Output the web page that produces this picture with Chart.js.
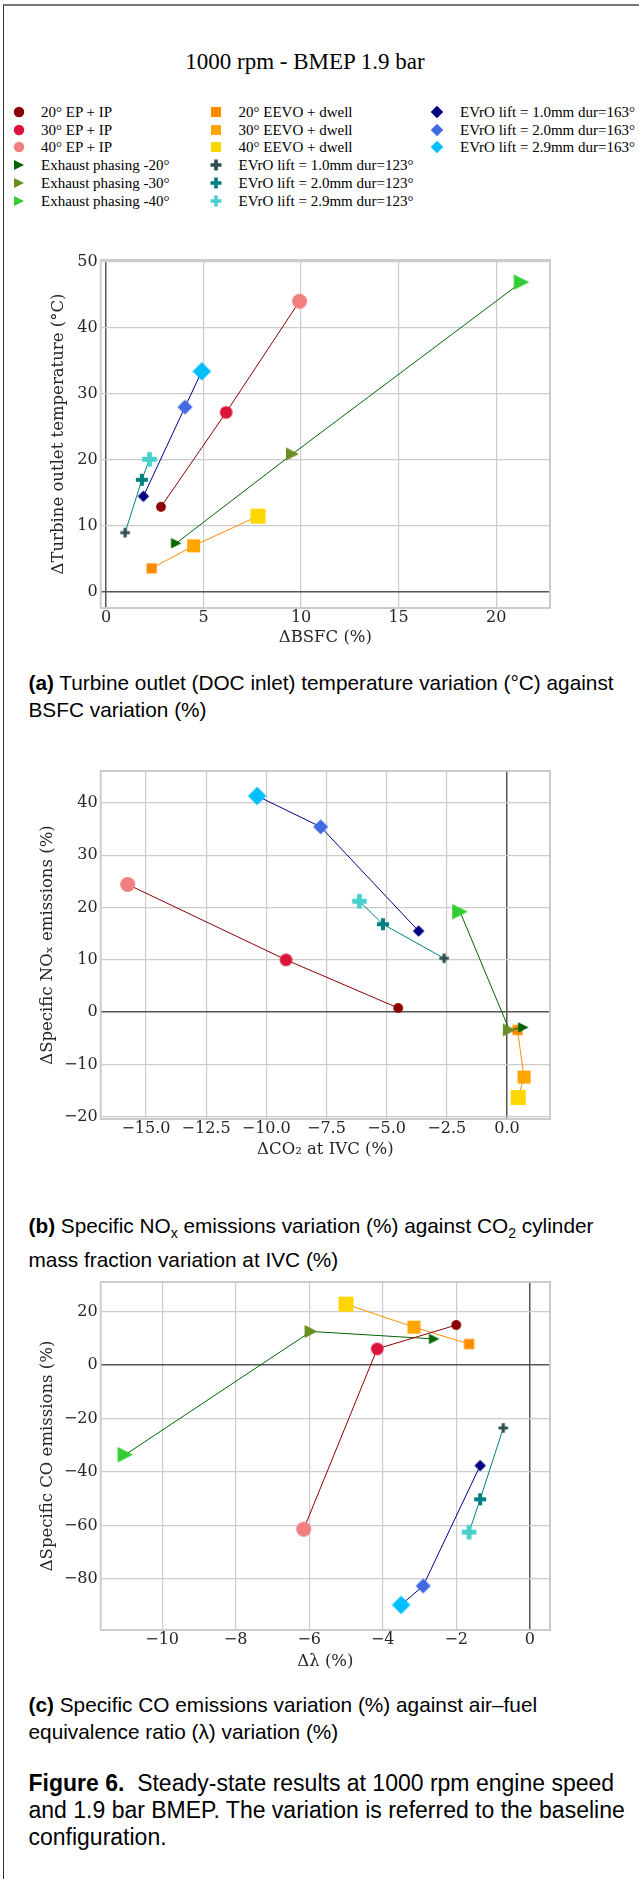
<!DOCTYPE html>
<html>
<head>
<meta charset="utf-8">
<script src="https://cdn.jsdelivr.net/npm/chart.js@4.4.1/dist/chart.umd.min.js"></script>
<style>
  html, body { margin: 0; padding: 0; background: #fff; }
  body { width: 639px; height: 1879px; position: relative; overflow: hidden; }
  #frame { position: absolute; left: 3px; top: 4px; width: 700px; height: 1900px;
           border-top: 2px solid #777; border-left: 1px solid #333; }
  #title { position: absolute; left: 0; width: 610px; top: 47.7px; text-align: center;
           font: 23px "Liberation Serif"; line-height: 28px; color: #000; }
  .leg { position: absolute; font: 15px "Liberation Serif"; line-height: 18px; white-space: nowrap; color: #000; }
  .cap { position: absolute; left: 28.5px; font-family: "Liberation Sans"; white-space: nowrap; color: #000; }
  .sub { font-size: 20.8px; line-height: 26.7px; }
  .fig { font-size: 23px; line-height: 26.7px; }
  canvas.chart { position: absolute; left: 0; }
</style>
</head>
<body>
<div id="frame"></div>
<div id="title">1000 rpm - BMEP 1.9 bar</div>
<div id="legend"></div>

<canvas id="chartA" class="chart" width="639" height="420" style="top:240px"></canvas>
<div class="cap sub" style="top:670.2px"><b>(a)</b> Turbine outlet (DOC inlet) temperature variation (°C) against<br>BSFC variation (%)</div>

<canvas id="chartB" class="chart" width="639" height="420" style="top:751px"></canvas>
<div class="cap sub" style="top:1213.4px"><b>(b)</b> Specific NO<sub style="font-size:14px">x</sub> emissions variation (%) against CO<sub style="font-size:14px">2</sub> cylinder<br>mass fraction variation at IVC (%)</div>

<canvas id="chartC" class="chart" width="639" height="420" style="top:1262px"></canvas>
<div class="cap sub" style="top:1692px"><b>(c)</b> Specific CO emissions variation (%) against air–fuel<br>equivalence ratio (λ) variation (%)</div>

<div class="cap fig" style="top:1770.2px"><b>Figure 6.</b>&nbsp; Steady-state results at 1000 rpm engine speed<br>and 1.9 bar BMEP. The variation is referred to the baseline<br>configuration.</div>

<script>
// series (same order in every panel)
const seriesNames = [
  '20° EP + IP', '30° EP + IP', '40° EP + IP',
  'Exhaust phasing -20°', 'Exhaust phasing -30°', 'Exhaust phasing -40°',
  '20° EEVO + dwell', '30° EEVO + dwell', '40° EEVO + dwell',
  'EVrO lift = 1.0mm dur=123°', 'EVrO lift = 2.0mm dur=123°', 'EVrO lift = 2.9mm dur=123°',
  'EVrO lift = 1.0mm dur=163°', 'EVrO lift = 2.0mm dur=163°', 'EVrO lift = 2.9mm dur=163°'
];
const seriesColors = [
  '#8b0000', '#dc143c', '#f08080',
  '#006400', '#6b8e23', '#32cd32',
  '#ff8c00', '#ffa500', '#ffd700',
  '#2f4f4f', '#008080', '#48d1cc',
  '#000080', '#4169e1', '#00bfff'
];
const groupLineColors = ['#8b0000', '#006400', '#ff8c00', '#008080', '#00008b'];

// panel (a)
const dBSFC       = [2.82, 6.16, 9.92, 3.6, 9.56, 21.3, 2.34, 4.49, 7.79, 0.98, 1.84, 2.23, 1.92, 4.05, 4.91];
const dTurbineOut = [12.9, 27.2, 44.0, 7.4, 20.9, 46.9, 3.6, 7.0, 11.5, 9.0, 17.0, 20.1, 14.5, 28.0, 33.4];
// panel (b)
const dCO2IVC     = [-4.52, -9.18, -15.76, 0.68, 0.1, -1.95, 0.44, 0.71, 0.47, -2.61, -5.15, -6.13, -3.67, -7.74, -10.38];
const dNOx        = [0.8, 10.0, 24.4, -2.9, -3.4, 19.2, -3.4, -12.4, -16.3, 10.3, 16.8, 21.2, 15.5, 35.4, 41.3];
// panel (c)
const dLambda     = [-2.0, -4.15, -6.15, -2.6, -5.95, -11.0, -1.65, -3.15, -5.0, -0.72, -1.35, -1.65, -1.35, -2.9, -3.5];
const dCO         = [15.0, 6.1, -61.4, 9.8, 12.6, -33.5, 7.9, 14.2, 22.8, -23.5, -50.2, -62.5, -37.6, -82.6, -89.7];

const groups = [[0, 1, 2], [3, 4, 5], [6, 7, 8], [9, 10, 11], [12, 13, 14]];
const groupShapes = ['circle', 'triangle', 'square', 'plus', 'diamond'];
const markerSizes = {
  circle: [9.8, 12.6, 15],
  triangle: [10.5, 13, 15.5],
  square: [10.2, 13, 15],
  plus: [9.5, 12, 14.5],
  diamond: [11.5, 15, 18.5]
};
const legendSizes = { circle: 10.5, triangle: 10, square: 10, plus: 11, diamond: 12.5 };

function drawMarker(ctx, shape, cx, cy, s, color) {
  const h = s / 2;
  ctx.fillStyle = color;
  ctx.beginPath();
  if (shape === 'circle') {
    ctx.arc(cx, cy, h, 0, Math.PI * 2);
  } else if (shape === 'square') {
    ctx.rect(cx - h, cy - h, s, s);
  } else if (shape === 'diamond') {
    ctx.moveTo(cx, cy - h); ctx.lineTo(cx + h, cy); ctx.lineTo(cx, cy + h); ctx.lineTo(cx - h, cy);
  } else if (shape === 'triangle') {
    ctx.moveTo(cx + h, cy); ctx.lineTo(cx - h, cy - h); ctx.lineTo(cx - h, cy + h);
  } else if (shape === 'plus') {
    const t = s / 6;
    const pts = [[-1, -3], [1, -3], [1, -1], [3, -1], [3, 1], [1, 1], [1, 3], [-1, 3], [-1, 1], [-3, 1], [-3, -1], [-1, -1]];
    pts.forEach((p, k) => k ? ctx.lineTo(cx + p[0] * t, cy + p[1] * t) : ctx.moveTo(cx + p[0] * t, cy + p[1] * t));
  }
  ctx.closePath();
  ctx.fill();
}

function markerCanvas(shape, s, color) {
  const c = document.createElement('canvas');
  const n = Math.ceil(s) + 2;
  c.width = n; c.height = n;
  drawMarker(c.getContext('2d'), shape, n / 2, n / 2, s, color);
  return c;
}

// legend (3 columns, column-major like the figure)
const legCols = [[19, 41], [216, 238.5], [437, 460]];
const legendBox = document.getElementById('legend');
seriesNames.forEach((name, i) => {
  const col = i < 6 ? 0 : (i < 12 ? 1 : 2);
  const row = i < 6 ? i : (i < 12 ? i - 6 : i - 12);
  const y = 111.7 + row * 17.8;
  const shape = groupShapes[Math.floor(i / 3)];
  const c = document.createElement('canvas');
  c.width = 16; c.height = 16;
  c.style.cssText = 'position:absolute;left:' + (legCols[col][0] - 8) + 'px;top:' + (y - 8) + 'px';
  drawMarker(c.getContext('2d'), shape, 8, 8, legendSizes[shape], seriesColors[i]);
  legendBox.appendChild(c);
  const t = document.createElement('div');
  t.className = 'leg';
  t.textContent = name;
  t.style.left = legCols[col][1] + 'px';
  t.style.top = (y - 9) + 'px';
  legendBox.appendChild(t);
});

const framePlugin = {
  id: 'frame',
  afterDraw(chart) {
    const { ctx, chartArea: a } = chart;
    ctx.save();
    ctx.strokeStyle = '#cccccc';
    ctx.lineWidth = 2;
    ctx.strokeRect(a.left, a.top, a.right - a.left, a.bottom - a.top);
    ctx.restore();
  }
};

const tickFont = { family: 'DejaVu Serif', size: 16 };
const titleFont = { family: 'DejaVu Serif', size: 16.5 };
const minus = v => String(v).replace('-', '\u2212');
const gridColor = c => (c.tick && c.tick.value === 0) ? '#555555' : '#cccccc';
const gridWidth = c => (c.tick && c.tick.value === 0) ? 1.5 : 1.2;

function makeChart(id, xs, ys, o) {
  const datasets = groups.map((g, gi) => {
    const shape = groupShapes[gi];
    return {
      data: g.map(i => ({ x: xs[i], y: ys[i] })),
      showLine: true,
      borderColor: groupLineColors[gi],
      borderWidth: 1,
      pointStyle: g.map((i, k) => markerCanvas(shape, markerSizes[shape][k], seriesColors[i])),
      pointRadius: g.map((i, k) => markerSizes[shape][k] / 2),
      pointBorderWidth: 0
    };
  });
  new Chart(document.getElementById(id), {
    type: 'scatter',
    data: { datasets },
    options: {
      responsive: false,
      animation: false,
      events: [],
      layout: { padding: { left: 0, right: 89, top: 20, bottom: 0 } },
      plugins: { legend: { display: false }, tooltip: { enabled: false } },
      scales: {
        x: {
          type: 'linear', min: o.xMin, max: o.xMax,
          ticks: { stepSize: o.xStep, includeBounds: false, font: tickFont, color: '#262626',
                   padding: 0, maxRotation: 0, autoSkip: false, callback: o.xFmt || minus },
          grid: { drawTicks: false, color: gridColor, lineWidth: gridWidth },
          border: { display: false },
          title: { display: true, text: o.xTitle, font: titleFont, color: '#262626', padding: { bottom: o.xTitlePad } },
          afterFit: s => { s.height = 52; }
        },
        y: {
          type: 'linear', min: o.yMin, max: o.yMax,
          ticks: { stepSize: o.yStep, includeBounds: false, font: tickFont, color: '#262626',
                   padding: 3, autoSkip: false, callback: minus },
          grid: { drawTicks: false, color: gridColor, lineWidth: gridWidth },
          border: { display: false },
          title: { display: true, text: o.yTitle, font: titleFont, color: '#262626', padding: { top: o.yTitlePad } },
          afterFit: s => { s.width = 100.7; }
        }
      }
    },
    plugins: [framePlugin]
  });
}

makeChart('chartA', dBSFC, dTurbineOut, {
  xMin: -0.27, xMax: 22.76, xStep: 5, yMin: -2.4, yMax: 50.25, yStep: 10,
  xTitle: 'ΔBSFC (%)', yTitle: 'ΔTurbine outlet temperature (°C)', xTitlePad: 12, yTitlePad: 49
});
makeChart('chartB', dCO2IVC, dNOx, {
  xMin: -16.88, xMax: 1.79, xStep: 2.5, yMin: -20.4, yMax: 46.07, yStep: 10,
  xFmt: v => v.toFixed(1).replace('-', '\u2212'),
  xTitle: 'ΔCO₂ at IVC (%)', yTitle: 'ΔSpecific NOₓ emissions (%)', xTitlePad: 11.4, yTitlePad: 38
});
makeChart('chartC', dLambda, dCO, {
  xMin: -11.67, xMax: 0.55, xStep: 2, yMin: -99.1, yMax: 31.1, yStep: 20,
  xTitle: 'Δλ (%)', yTitle: 'ΔSpecific CO emissions (%)', xTitlePad: 10.7, yTitlePad: 38
});
</script>
</body>
</html>
